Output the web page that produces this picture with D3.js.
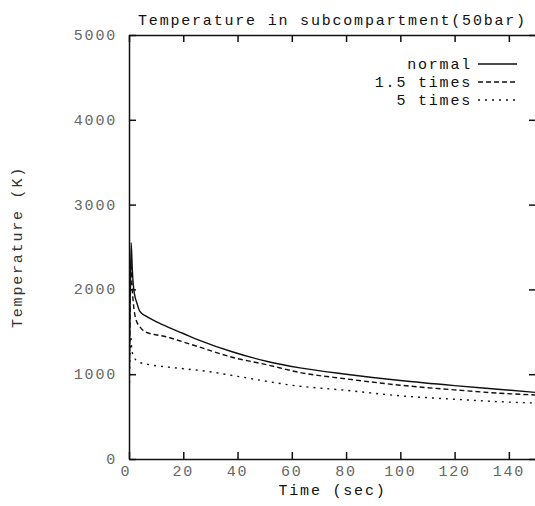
<!DOCTYPE html>
<html>
<head>
<meta charset="utf-8">
<script src="https://cdn.jsdelivr.net/npm/d3@7"></script>
<style>
  body { margin: 0; background: #fff; }
  svg text { font-family: "Liberation Mono", "DejaVu Sans Mono", monospace; }
</style>
</head>
<body>
<div id="chart"></div>
<script>
// values
var chartTitle = 'Temperature in subcompartment(50bar)';
var xTicks = [0, 20, 40, 60, 80, 100, 120, 140];
var yTicks = [0, 1000, 2000, 3000, 4000, 5000];

var timeNormal = [0, 0.4, 0.8, 1.2, 1.6, 2, 3, 4, 6, 10, 14, 20, 26, 38, 51, 63, 80, 100, 120, 137, 150];
var tempNormal = [700, 1800, 2550, 2250, 2050, 1950, 1830, 1740, 1690, 1620, 1560, 1480, 1400, 1265, 1150, 1075, 1000, 925, 865, 820, 785];

var time15 = [0, 0.4, 0.7, 1.1, 1.6, 2.5, 4, 6, 14, 20, 26, 38, 51, 63, 80, 100, 120, 137, 150];
var temp15 = [700, 1700, 2300, 2050, 1840, 1650, 1560, 1500, 1440, 1380, 1320, 1200, 1110, 1020, 945, 870, 815, 775, 755];

var time5 = [0, 0.3, 0.6, 1, 1.5, 2.5, 4, 8, 14, 20, 26, 40, 51, 60, 80, 100, 120, 137, 150];
var temp5 = [650, 1100, 1450, 1300, 1220, 1170, 1140, 1110, 1085, 1065, 1045, 975, 915, 870, 810, 745, 705, 675, 660];

var seriesNames = ['normal', '1.5 times', '5 times'];
var seriesDash = [null, '5,3', '2,5'];

var chartJs = (function () {

  var width = 535, height = 506;
  var plotLeft = 129, plotRight = 536, plotTop = 35, plotBottom = 459;
  var tickLen = 7;

  var svg = d3.select('#chart').append('svg')
      .attr('width', width)
      .attr('height', height);

  var x = d3.scaleLinear().domain([0, 150]).range([plotLeft, plotRight]);
  var y = d3.scaleLinear().domain([0, 5000]).range([plotBottom, plotTop]);

  svg.append('defs').append('clipPath').attr('id', 'plotclip')
    .append('rect')
      .attr('x', plotLeft).attr('y', plotTop)
      .attr('width', plotRight - plotLeft).attr('height', plotBottom - plotTop);

  // frame with inward ticks on all four sides
  svg.append('g').attr('transform', 'translate(0,' + plotBottom + ')')
      .call(d3.axisBottom(x).tickValues(xTicks).tickSize(-tickLen).tickSizeOuter(0).tickFormat(''));
  svg.append('g').attr('transform', 'translate(0,' + plotTop + ')')
      .call(d3.axisTop(x).tickValues(xTicks).tickSize(-tickLen).tickSizeOuter(0).tickFormat(''));
  svg.append('g').attr('transform', 'translate(' + plotLeft + ',0)')
      .call(d3.axisLeft(y).tickValues(yTicks).tickSize(-tickLen).tickSizeOuter(0).tickFormat(''));
  svg.append('g').attr('transform', 'translate(' + plotRight + ',0)')
      .call(d3.axisRight(y).tickValues(yTicks).tickSize(-tickLen).tickSizeOuter(0).tickFormat(''));
  svg.selectAll('.domain, .tick line')
      .attr('stroke', '#111')
      .attr('stroke-width', 1.5);

  // typewriter-ish look: smaller glyphs, wide advance
  function label(sel) {
    return sel.attr('font-size', 15)
        .attr('letter-spacing', 1.8);
  }

  // tick labels
  svg.append('g').selectAll('text')
    .data(xTicks)
    .enter().append('text')
      .attr('x', function(d) { return x(d) - (d === 0 ? 3 : 0); })
      .attr('y', plotBottom + 17)
      .attr('text-anchor', 'middle')
      .attr('fill', '#666')
      .call(label)
      .text(function(d) { return d; });

  svg.append('g').selectAll('text')
    .data(yTicks)
    .enter().append('text')
      .attr('x', 117)
      .attr('y', function(d) { return y(d) + 5; })
      .attr('text-anchor', 'end')
      .attr('fill', '#666')
      .call(label)
      .text(function(d) { return d; });

  svg.append('text')
      .attr('x', (plotLeft + plotRight) / 2)
      .attr('y', 25)
      .attr('text-anchor', 'middle')
      .attr('fill', '#111')
      .call(label)
      .text(chartTitle);

  svg.append('text')
      .attr('x', (plotLeft + plotRight) / 2)
      .attr('y', 495)
      .attr('text-anchor', 'middle')
      .attr('fill', '#111')
      .call(label)
      .text('Time (sec)');

  svg.append('text')
      .attr('transform', 'translate(22,' + ((plotTop + plotBottom) / 2) + ') rotate(-90)')
      .attr('text-anchor', 'middle')
      .attr('fill', '#333')
      .call(label)
      .text('Temperature (K)');

  // curves
  var series = [
    { t: timeNormal, v: tempNormal },
    { t: time15, v: temp15 },
    { t: time5, v: temp5 }
  ];

  var line = d3.line()
      .x(function(d) { return x(d[0]); })
      .y(function(d) { return y(d[1]); })
      .curve(d3.curveMonotoneX);

  var plot = svg.append('g').attr('clip-path', 'url(#plotclip)');
  series.forEach(function(s, i) {
    plot.append('path')
        .datum(d3.zip(s.t, s.v))
        .attr('d', line)
        .attr('fill', 'none')
        .attr('stroke', '#111')
        .attr('stroke-width', 1.4)
        .attr('stroke-dasharray', seriesDash[i]);
  });

  // legend, top right inside the frame
  var legend = svg.append('g');
  seriesNames.forEach(function(name, i) {
    var ly = 64 + i * 18;
    legend.append('text')
        .attr('x', 472)
        .attr('y', ly + 5)
        .attr('text-anchor', 'end')
        .attr('fill', '#111')
        .call(label)
        .text(name);
    legend.append('line')
        .attr('x1', 478).attr('x2', 517)
        .attr('y1', ly).attr('y2', ly)
        .attr('stroke', '#111')
        .attr('stroke-width', 1.4)
        .attr('stroke-dasharray', seriesDash[i]);
  });

}());
</script>
</body>
</html>
